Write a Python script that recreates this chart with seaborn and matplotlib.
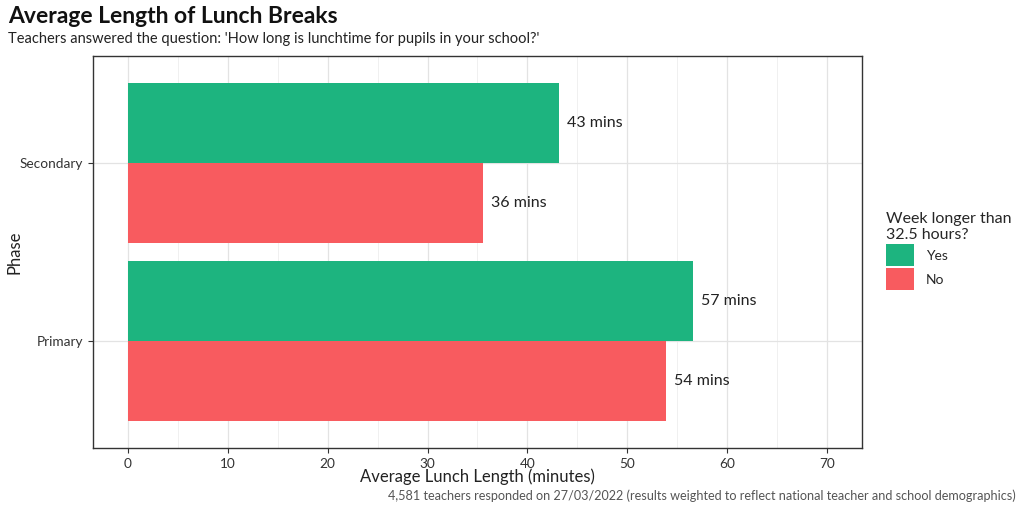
import numpy as np
import pandas as pd
import matplotlib
matplotlib.use('Agg')
import matplotlib.pyplot as plt
import seaborn as sns
from matplotlib.patches import Patch
from matplotlib.ticker import MultipleLocator

# data
phases = ['Secondary', 'Secondary', 'Primary', 'Primary']
longer_week = ['Yes', 'No', 'Yes', 'No']
lunch_mins = [43.2, 35.6, 56.6, 53.9]

colours = {'Yes': '#1DB47F', 'No': '#F85B5F'}

df = pd.DataFrame({'Phase': phases, 'Week': longer_week, 'Minutes': lunch_mins})

sns.set_style('white')
plt.rcParams['font.family'] = ['Lato', 'DejaVu Sans']

fig = plt.figure(figsize=(10.24, 5.12), dpi=100)
ax = fig.add_axes([0.0908, 0.125, 0.751, 0.7656])

sns.barplot(data=df, x='Minutes', y='Phase', hue='Week', order=['Secondary', 'Primary'],
            hue_order=['Yes', 'No'], palette=colours, orient='h', width=0.9,
            dodge=True, saturation=1, errorbar=None, linewidth=0, ax=ax, zorder=3)

# value labels
for cont in ax.containers:
    for bar in cont:
        w = bar.get_width()
        ax.text(w + 0.8, bar.get_y() + bar.get_height() / 2, f'{round(w):d} mins',
                ha='left', va='center', fontsize=11.5, color='#222222', zorder=4)

ax.set_xlim(-3.5, 73.5)
ax.set_ylim(1.6, -0.6)
ax.set_xticks(np.arange(0, 71, 10))
ax.xaxis.set_minor_locator(MultipleLocator(5))
ax.grid(True, which='major', axis='both', color='#E3E3E3', linewidth=0.9, zorder=0)
ax.grid(True, which='minor', axis='x', color='#EEEEEE', linewidth=0.6, zorder=0)
ax.set_axisbelow(True)

ax.tick_params(axis='both', which='major', labelsize=9.8, length=3.5, width=0.8,
               color='#333333', labelcolor='#333333', direction='out', bottom=True, left=True)
ax.tick_params(axis='x', which='minor', length=0)
for s in ax.spines.values():
    s.set_color('#333333')
    s.set_linewidth(1.0)

ax.set_xlabel('Average Lunch Length (minutes)', fontsize=12, color='#222222', va='center')
ax.xaxis.set_label_coords(0.5, -0.072)
ax.set_ylabel('Phase', fontsize=12, color='#222222', va='center')
ax.yaxis.set_label_coords(-0.102, 0.5)

ax.get_legend().remove()
handles = [Patch(facecolor=colours[k], edgecolor='none') for k in ['Yes', 'No']]
fig.legend(handles, ['Yes', 'No'], title='Week longer than\n32.5 hours?',
           loc='upper left', bbox_to_anchor=(0.853, 0.61), frameon=False,
           fontsize=10, title_fontsize=11.5, handlelength=2.0, handleheight=2.1,
           handletextpad=0.9, labelspacing=0.12, alignment='left')

fig.text(0.008, 0.968, 'Average Length of Lunch Breaks', fontsize=16.5, fontweight='bold',
         ha='left', va='center', color='#111111')
fig.text(0.008, 0.924, "Teachers answered the question: 'How long is lunchtime for pupils in your school?'",
         fontsize=10.5, ha='left', va='center', color='#222222')
fig.text(0.992, 0.031, '4,581 teachers responded on 27/03/2022 (results weighted to reflect national teacher and school demographics)',
         fontsize=9.1, ha='right', va='center', color='#555555')

fig.savefig('out.png', dpi=100)
